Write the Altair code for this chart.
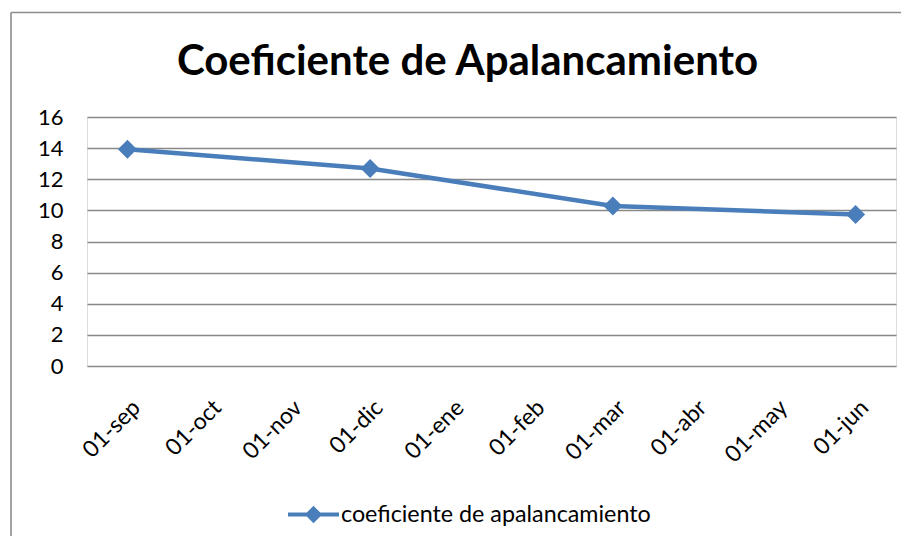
import altair as alt
import pandas as pd

# ---- data ----
categorias = ["01-sep", "01-oct", "01-nov", "01-dic", "01-ene",
              "01-feb", "01-mar", "01-abr", "01-may", "01-jun"]
meses_medidos = ["01-sep", "01-dic", "01-mar", "01-jun"]
valores = [13.93, 12.69, 10.28, 9.73]
serie = "coeficiente de apalancamiento"
titulo = "Coeficiente de Apalancamiento"
y_ticks = [0, 2, 4, 6, 8, 10, 12, 14, 16]

df = pd.DataFrame({"mes": meses_medidos, "valor": valores,
                   "serie": [serie] * len(meses_medidos)})

BLUE = "#4A7EBB"
GRID = "#888888"
FONT = "Lato"
W, H = 809, 249

x_enc = alt.X("mes:N", sort=categorias,
              scale=alt.Scale(domain=categorias),
              axis=alt.Axis(title=None, labelAngle=315, labelFont=FONT,
                            labelFontSize=23, labelColor="black",
                            domain=False, ticks=False, grid=False,
                            labelPadding=30, labelOffset=1))
y_enc = alt.Y("valor:Q", scale=alt.Scale(domain=[0, 16], nice=False),
              axis=alt.Axis(title=None, values=y_ticks, labelFont=FONT,
                            labelFontSize=22, labelColor="black",
                            domain=False, ticks=False, grid=True,
                            gridColor=GRID, gridWidth=1.4,
                            labelPadding=24))

legend_path = "M-1,0L1,0M0,-0.23L0.23,0L0,0.23L-0.23,0Z"

line = alt.Chart(df).mark_line(interpolate="linear", strokeWidth=4.5).encode(
    x=x_enc, y=y_enc,
    color=alt.Color("serie:N", scale=alt.Scale(range=[BLUE]),
                    legend=alt.Legend(orient="none", legendX=199, legendY=370,
                                      title=None, symbolType=legend_path,
                                      symbolSize=2601, symbolStrokeWidth=4,
                                      symbolFillColor=BLUE, symbolStrokeColor=BLUE,
                                      labelFont=FONT, labelFontSize=23.3,
                                      labelColor="black", labelOffset=0,
                                      labelLimit=0, padding=0)))

points = alt.Chart(df).mark_point(shape="diamond", filled=True, size=361,
                                  opacity=1, color=BLUE).encode(x=x_enc, y=y_enc)

border_df = pd.DataFrame({"k": [0]})
top_border = alt.Chart(border_df).mark_rule(color="#8c8c8c", strokeWidth=1.6).encode(
    x=alt.value(-76), x2=alt.value(830), y=alt.value(-104.5))
left_border = alt.Chart(border_df).mark_rule(color="#8c8c8c", strokeWidth=1.6).encode(
    x=alt.value(-76), y=alt.value(-104.5), y2=alt.value(460))

chart = alt.layer(top_border, left_border, line, points).properties(
    width=W, height=H,
    title=alt.TitleParams(titulo, font=FONT, fontSize=42, fontWeight="bold",
                          color="black", anchor="middle", frame="group",
                          baseline="alphabetic", offset=0, dy=105, dx=-24),
    autosize=alt.AutoSizeParams(type="none"),
    padding={"left": 79, "top": 109, "right": 5, "bottom": 170},
).configure_view(stroke=None).configure(background="white")

chart.save("out.html", embed_options={"renderer": "svg", "actions": False})
